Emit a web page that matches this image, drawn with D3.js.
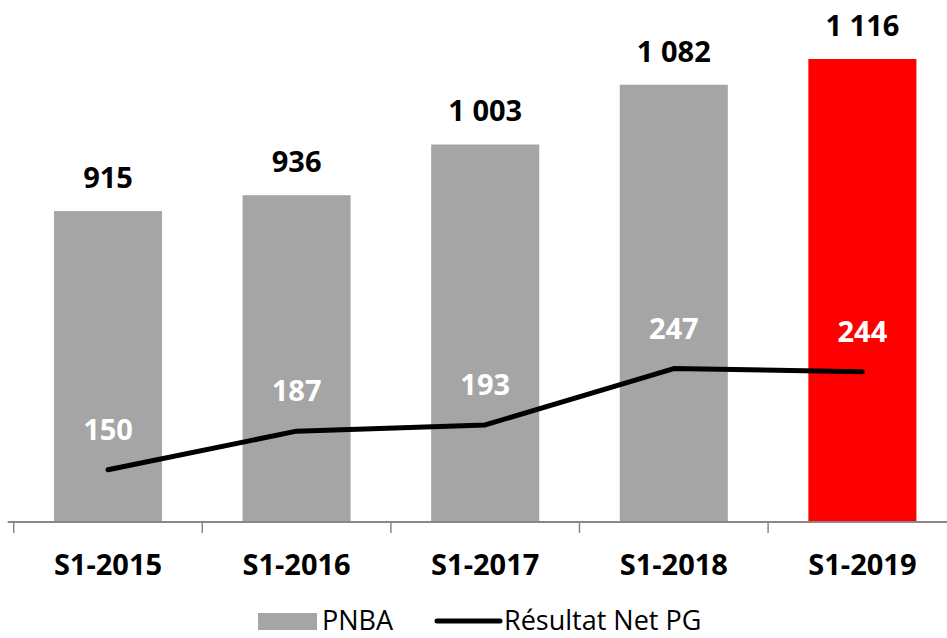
<html lang="fr">
<head>
  <meta charset="UTF-8">
  <title>PNBA / Résultat Net PG</title>
  <script src="https://d3js.org/d3.v7.min.js"></script>
  <style>
    body {
      margin: 0;
      background: #fff;
    }
    text {
      font-family: 'Open Sans', sans-serif;
    }
    .bar-label {
      font-size: 29px;
      font-weight: bold;
      fill: #000;
      text-anchor: middle;
    }
    .line-label {
      font-size: 29px;
      font-weight: bold;
      fill: #fff;
      text-anchor: middle;
    }
    .x-label {
      font-size: 29px;
      font-weight: bold;
      fill: #000;
      text-anchor: middle;
    }
    .legend-label {
      font-size: 27px;
      fill: #000;
    }
  </style>
</head>
<body>
  <script>
    var periods = ['S1-2015', 'S1-2016', 'S1-2017', 'S1-2018', 'S1-2019'];
    var pnba = [915, 936, 1003, 1082, 1116];
    var resultat = [150, 187, 193, 247, 244];
    var barColors = ['#a5a5a5', '#a5a5a5', '#a5a5a5', '#a5a5a5', '#ff0000'];

    var width = 947, height = 638;
    var x0 = 13.7, step = 188.6, baseY = 522;

    var svg = d3.select('body').append('svg')
      .attr('width', width)
      .attr('height', height);

    var x = d3.scaleBand()
      .domain(periods)
      .range([x0, x0 + step * periods.length])
      .paddingInner(0.427)
      .paddingOuter(0.2135);

    // two separate value axes, neither one drawn
    var yBar = d3.scaleLinear().domain([504, 1194]).range([baseY, 0]);
    var yLine = d3.scaleLinear().domain([100, 600]).range([baseY, 0]);

    var fmt = function(v) {
      return d3.format(',')(v).replace(/,/g, ' ');
    };
    var cx = function(d, i) { return x(periods[i]) + x.bandwidth() / 2; };

    svg.selectAll('.bar')
      .data(pnba)
      .enter().append('rect')
      .attr('class', 'bar')
      .attr('x', function(d, i) { return x(periods[i]); })
      .attr('y', function(d) { return yBar(d); })
      .attr('width', x.bandwidth())
      .attr('height', function(d) { return baseY - yBar(d); })
      .attr('fill', function(d, i) { return barColors[i]; });

    svg.selectAll('.bar-label')
      .data(pnba)
      .enter().append('text')
      .attr('class', 'bar-label')
      .attr('x', cx)
      .attr('y', function(d) { return yBar(d) - 23; })
      .text(fmt);

    // category axis, ticks between categories
    svg.append('line')
      .attr('x1', x0 - 6).attr('x2', width)
      .attr('y1', baseY).attr('y2', baseY)
      .attr('stroke', '#888')
      .attr('stroke-width', 2);

    svg.selectAll('.tick-mark')
      .data(periods)
      .enter().append('line')
      .attr('class', 'tick-mark')
      .attr('x1', function(d) { return x(d) - (x.step() - x.bandwidth()) / 2; })
      .attr('x2', function(d) { return x(d) - (x.step() - x.bandwidth()) / 2; })
      .attr('y1', baseY)
      .attr('y2', baseY + 11)
      .attr('stroke', '#888')
      .attr('stroke-width', 1.5);

    svg.selectAll('.x-label')
      .data(periods)
      .enter().append('text')
      .attr('class', 'x-label')
      .attr('x', function(d) { return x(d) + x.bandwidth() / 2; })
      .attr('y', 575)
      .text(function(d) { return d; });

    // result line
    var line = d3.line()
      .x(cx)
      .y(function(d) { return yLine(d); });

    svg.append('path')
      .datum(resultat)
      .attr('d', line)
      .attr('fill', 'none')
      .attr('stroke', '#000')
      .attr('stroke-width', 5)
      .attr('stroke-linecap', 'round')
      .attr('stroke-linejoin', 'round');

    svg.selectAll('.line-label')
      .data(resultat)
      .enter().append('text')
      .attr('class', 'line-label')
      .attr('x', cx)
      .attr('y', function(d) { return yLine(d) - 30; })
      .text(function(d) { return d; });

    // legend
    var legend = svg.append('g');
    legend.append('rect')
      .attr('x', 258).attr('y', 613)
      .attr('width', 59).attr('height', 17)
      .attr('fill', '#a5a5a5');
    legend.append('text')
      .attr('class', 'legend-label')
      .attr('x', 322).attr('y', 630)
      .text('PNBA');
    legend.append('line')
      .attr('x1', 437).attr('x2', 500)
      .attr('y1', 621).attr('y2', 621)
      .attr('stroke', '#000')
      .attr('stroke-width', 5)
      .attr('stroke-linecap', 'round');
    legend.append('text')
      .attr('class', 'legend-label')
      .attr('x', 504).attr('y', 630)
      .text('Résultat Net PG');
  </script>
</body>
</html>
